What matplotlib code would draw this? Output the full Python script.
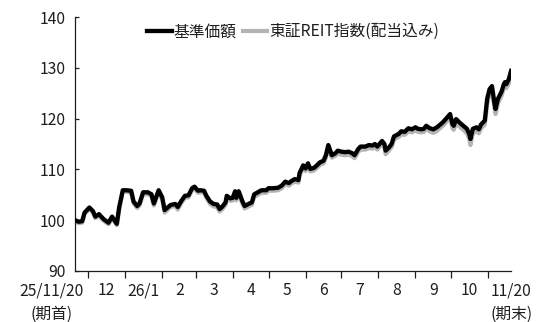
import matplotlib
matplotlib.use("Agg")
import matplotlib.pyplot as plt
import pandas as pd

plt.rcParams['font.family'] = ['Noto Sans CJK JP', 'DejaVu Sans']

# ── データ ──────────────────────────────────────────
start = pd.Timestamp("2025-11-20")
end = pd.Timestamp("2026-11-20")

# 期首からの経過日数
days = [
    0, 3, 6, 8, 12, 15, 17, 20, 24, 28, 31, 33, 35, 37, 40, 43, 47, 49, 52, 54,
    57, 61, 64, 66, 70, 73, 75, 80, 84, 86, 89, 92, 95, 98, 100, 103, 105, 108, 110, 113,
    116, 119, 121, 123, 126, 127, 130, 132, 134, 135, 137, 140, 142, 146, 148, 150, 153, 156, 160, 162,
    166, 170, 173, 176, 179, 181, 184, 187, 188, 191, 193, 195, 197, 200, 202, 205, 208, 210, 212, 214,
    215, 218, 220, 223, 226, 229, 232, 234, 237, 239, 243, 246, 249, 251, 253, 257, 259, 260, 263, 265,
    267, 271, 273, 276, 279, 282, 285, 287, 290, 292, 294, 297, 300, 303, 306, 308, 311, 314, 316, 317,
    319, 322, 325, 328, 330, 331, 333, 336, 338, 340, 343, 345, 347, 349, 351, 352, 354, 357, 359, 360,
    361, 363, 365,
]

# 基準価額（期首=100）
nav = [
    100.0, 99.7, 99.8, 101.5, 102.5, 101.8, 100.7, 101.2, 100.2, 99.5, 100.7, 100.0, 99.3, 102.6, 105.9, 105.9, 105.8, 103.7, 102.8, 103.3,
    105.5, 105.5, 105.1, 103.3, 105.9, 104.5, 102.0, 103.0, 103.2, 102.6, 103.8, 104.8, 104.9, 106.3, 106.6, 105.8, 105.9, 105.8, 104.8, 103.7,
    103.2, 103.1, 102.2, 102.6, 103.5, 104.8, 104.3, 104.4, 105.7, 104.4, 105.7, 103.8, 102.8, 103.3, 103.5, 105.1, 105.5, 105.9, 105.9, 106.3,
    106.3, 106.4, 106.8, 107.6, 107.3, 107.7, 108.1, 107.9, 109.3, 110.8, 110.2, 111.2, 110.1, 110.3, 110.7, 111.4, 111.7, 112.8, 114.8, 113.5,
    112.8, 113.2, 113.7, 113.5, 113.4, 113.5, 113.2, 112.8, 114.0, 114.5, 114.5, 114.8, 114.7, 115.0, 114.5, 115.6, 115.0, 113.7, 114.4, 115.0,
    116.5, 117.0, 117.5, 117.4, 118.1, 117.9, 118.3, 118.0, 117.9, 118.0, 118.6, 118.1, 117.9, 118.3, 118.9, 119.3, 120.1, 120.9, 118.9, 118.6,
    119.9, 119.2, 118.6, 118.0, 117.0, 116.0, 118.0, 118.3, 117.9, 118.9, 119.6, 123.9, 125.8, 126.4, 123.2, 121.9, 123.9, 125.3, 126.8, 127.2,
    126.8, 127.7, 129.4,
]

# 東証REIT指数（配当込み、期首=100）
reit = [
    99.8, 99.4, 99.5, 101.2, 102.2, 101.5, 100.4, 100.9, 99.9, 99.2, 100.4, 99.7, 99.0, 102.2, 105.6, 105.6, 105.4, 103.3, 102.4, 102.9,
    105.1, 105.1, 104.7, 102.9, 105.5, 104.1, 101.5, 102.6, 102.8, 102.1, 103.4, 104.4, 104.5, 105.9, 106.2, 105.4, 105.5, 105.4, 104.4, 103.2,
    102.7, 102.6, 101.7, 102.1, 103.0, 104.3, 103.8, 103.9, 105.2, 103.9, 105.2, 103.3, 102.3, 102.8, 103.0, 104.6, 105.0, 105.4, 105.4, 105.8,
    105.8, 105.9, 106.3, 107.1, 106.8, 107.2, 107.6, 107.4, 108.8, 110.3, 109.7, 110.7, 109.6, 109.8, 110.2, 110.9, 111.2, 112.3, 114.1, 112.9,
    112.3, 112.7, 113.1, 112.9, 112.8, 112.9, 112.6, 112.2, 113.4, 113.9, 113.9, 114.2, 114.1, 114.4, 113.9, 115.0, 114.4, 113.0, 113.8, 114.4,
    115.9, 116.4, 116.9, 116.8, 117.5, 117.3, 117.7, 117.4, 117.3, 117.4, 118.0, 117.5, 117.2, 117.6, 118.2, 118.6, 119.4, 120.2, 118.1, 117.8,
    119.1, 118.4, 117.8, 117.1, 116.0, 114.8, 117.1, 117.5, 117.1, 118.1, 118.8, 122.9, 124.9, 125.6, 122.2, 120.9, 123.0, 124.5, 126.0, 126.4,
    126.0, 126.9, 128.6,
]

month_labels = ["12", "26/1", "2", "3", "4", "5", "6", "7", "8", "9", "10"]
start_label = "25/11/20\n(期首)"
end_label = "11/20\n(期末)"
y_ticks = [90, 100, 110, 120, 130, 140]

dates = start + pd.to_timedelta(days, unit="D")
txt = "#1e1e1e"
fs = 11.3

fig = plt.figure(figsize=(5.37, 3.22), dpi=100)
ax = fig.add_axes([0.1397, 0.1584, 0.812, 0.7886])

ax.plot(dates, reit, color="#b4b4b4", lw=3.0, solid_joinstyle="round",
        label="東証REIT指数(配当込み)", zorder=2)
ax.plot(dates, nav, color="#000000", lw=3.1, solid_joinstyle="round",
        label="基準価額", zorder=3)

ax.set_xlim(start, end)
ax.set_ylim(90, 140)
ax.set_yticks(y_ticks)

# 月初に目盛線、月の中央にラベル
month_starts = pd.date_range("2025-12-01", "2026-11-01", freq="MS")
ax.set_xticks(month_starts)
ax.set_xticklabels([])
ax.set_xticks(month_starts[:-1] + pd.Timedelta(days=15), minor=True)
ax.set_xticklabels(month_labels, minor=True)

ax.tick_params(axis="x", which="major", direction="out", length=5, width=0.9,
               color=txt)
ax.tick_params(axis="x", which="minor", length=0, pad=8, labelsize=fs,
               labelcolor=txt)
ax.tick_params(axis="y", direction="in", length=3, width=0.9, pad=6.5,
               labelsize=fs, labelcolor=txt, color=txt)

# 期首・期末の日付
for lab, x in [(start_label, start - pd.Timedelta(days=20)), (end_label, end)]:
    ax.annotate(lab, xy=(x, 0), xycoords=("data", "axes fraction"),
                xytext=(0, -8), textcoords="offset points",
                ha="center", va="top", fontsize=fs, color=txt,
                linespacing=1.5, annotation_clip=False)

for s in ["top", "right"]:
    ax.spines[s].set_visible(False)
for s in ["left", "bottom"]:
    ax.spines[s].set_linewidth(0.9)
    ax.spines[s].set_color(txt)

handles, labels = ax.get_legend_handles_labels()
leg = ax.legend(handles[::-1], labels[::-1], loc="center",
                bbox_to_anchor=(0.5, 0.942), ncol=2, frameon=False,
                fontsize=fs, handlelength=1.55, handletextpad=0.1,
                columnspacing=0.45, borderaxespad=0)
for t in leg.get_texts():
    t.set_color(txt)

fig.savefig("out.png", dpi=100, facecolor="white")
